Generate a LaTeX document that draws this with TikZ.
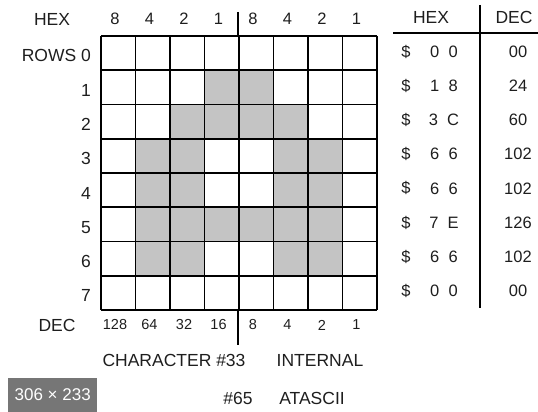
\documentclass[tikz,border=0pt]{standalone}
\usepackage{fontspec}
\setmainfont{Liberation Sans}
\usetikzlibrary{positioning}
\definecolor{dotgray}{RGB}{196,196,196}
\definecolor{badgegray}{RGB}{118,118,118}
\definecolor{inkgray}{RGB}{30,30,30}
\begin{document}
\begin{tikzpicture}[
  x=1pt,y=-1pt,
  lbl/.style={inner sep=0pt,text=inkgray,font=\fontsize{17.5}{17.5}\selectfont},
  digit/.style={inner sep=0pt,text=inkgray,font=\fontsize{16.5}{16.5}\selectfont},
  small/.style={inner sep=0pt,text=inkgray,font=\fontsize{14.5}{14.5}\selectfont},
  gridline/.style={line width=1.8pt},
  rule/.style={line width=1.4pt}
]
  \useasboundingbox (0,0) rectangle (538,412);
  % shaded pixels of the letter
  \foreach \r/\cols in {1/{3,4},2/{2,3,4,5},3/{1,2,5,6},4/{1,2,5,6},5/{1,2,3,4,5,6},6/{1,2,5,6}}
    \foreach \c in \cols
      \fill[dotgray] (101+34.5*\c,36+34.25*\r) rectangle ++(34.5,34.25);
  % grid
  \foreach \i in {0,...,8} {
    \draw[gridline] (101+34.5*\i,36) -- (101+34.5*\i,310);
    \draw[gridline] (101,36+34.25*\i) -- (377,36+34.25*\i);
  }
  \coordinate (midtop) at (238,12);
  \coordinate (midbot) at (238,345);
  \draw[rule] (midtop) -- (238,36);
  \draw[rule] (238,310) -- (midbot);
  % column and row labels
  \node[lbl] (hexl) at (52,19) {HEX};
  \foreach \v [count=\c from 0] in {8,4,2,1,8,4,2,1}
    \node[digit] (hx\c) at (115+34.5*\c,19) {\v};
  \node[lbl,anchor=east] (row0) at (91,55) {ROWS 0};
  \foreach \r in {1,...,7}
    \node[lbl,anchor=east] (row\r) at (91,56+34.25*\r) {\r};
  \node[lbl] (decl) at (57,325) {DEC};
  \foreach \v [count=\c from 0] in {128,64,32,16,8,4,2,1}
    \node[small] (dc\c) at (115+34.5*\c,325) {\v};
  \node[lbl] (charno) at (174,360) {CHARACTER \#33};
  \node[lbl] (internal) at (320,360) {INTERNAL};
  \node[lbl] (ascno) at (238,398) {\#65};
  \node[lbl] (atascii) at (312,398) {ATASCII};
  % value table
  \node[lbl] (thex) at (431,17) {HEX};
  \node[lbl] (tdec) at (514,17) {DEC};
  \coordinate (hl) at (393,33);
  \coordinate (hr) at (538,33);
  \coordinate (vt) at (480,5);
  \coordinate (vb) at (480,308);
  \draw[rule] (hl) -- (hr);
  \draw[rule] (vt) -- (vb);
  \foreach \h/\d [count=\r from 0] in {0\ \ 0/00,1\ \ 8/24,3\ \ C/60,6\ \ 6/102,6\ \ 6/102,7\ \ E/126,6\ \ 6/102,0\ \ 0/00} {
    \node[digit] (dol\r) at (406,52+34.1*\r) {\$};
    \node[digit] (hv\r) at (444,52+34.1*\r) {\h};
    \node[digit] (dv\r) at (518,52+34.1*\r) {\d};
  }
  % size badge
  \node[fill=badgegray,text=white,minimum width=89pt,minimum height=34pt,inner sep=0pt,
        font=\fontsize{17}{17}\selectfont,anchor=south west] (badge) at (8,412) {306 × 233};
\end{tikzpicture}
\end{document}
